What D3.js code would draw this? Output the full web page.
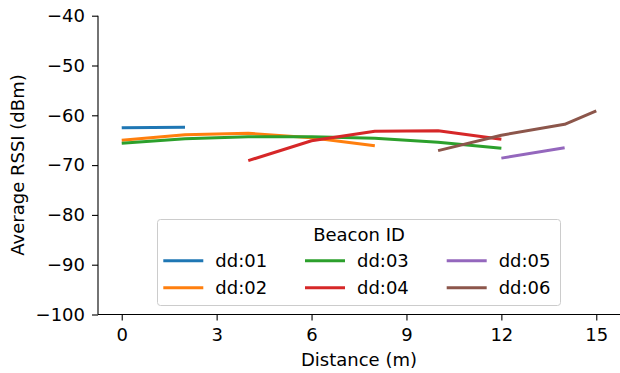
<!DOCTYPE html>
<html><head><meta charset="utf-8">
<script src="https://cdn.jsdelivr.net/npm/d3@7"></script>
<style>body{margin:0;background:#fff}svg{display:block}text{font-family:"DejaVu Sans",sans-serif;fill:#000}</style>
</head><body><svg id="c" width="620" height="373"></svg>
<script>
const beaconIds = ["dd:01","dd:02","dd:03","dd:04","dd:05","dd:06"];
const colors = ["#1f77b4","#ff7f0e","#2ca02c","#d62728","#9467bd","#8c564b"];
const dist01 = [0,2];            const rssi01 = [-62.5,-62.4];
const dist02 = [0,2,4,6,8];      const rssi02 = [-65.0,-63.9,-63.6,-64.5,-66.1];
const dist03 = [0,2,4,6,8,10,12];const rssi03 = [-65.6,-64.7,-64.3,-64.3,-64.6,-65.4,-66.6];
const dist04 = [4,6,8,10,12];    const rssi04 = [-69.1,-65.1,-63.2,-63.1,-64.8];
const dist05 = [12,14];          const rssi05 = [-68.6,-66.5];
const dist06 = [10,12,14,15];    const rssi06 = [-67.1,-64.0,-61.8,-59.1];
const xTicks = [0,3,6,9,12,15];
const yTicks = [-40,-50,-60,-70,-80,-90,-100];

const series = [[dist01,rssi01],[dist02,rssi02],[dist03,rssi03],[dist04,rssi04],[dist05,rssi05],[dist06,rssi06]]
  .map((s,i)=>({id:beaconIds[i],color:colors[i],pts:s[0].map((d,j)=>[d,s[1][j]])}));

const FS = "18px";
const svg = d3.select("#c");
const L=98, R=620, T=15.7, B=314.5;
const x = d3.scaleLinear().domain([-0.75,15.75]).range([L,R]);
const y = d3.scaleLinear().domain([-100,-40]).range([B,T]);

const fmt = d=>String(d).replace("-","\u2212");
const xa = svg.append("g").attr("transform",`translate(0,${B})`)
  .call(d3.axisBottom(x).tickValues(xTicks).tickSize(6).tickPadding(6).tickFormat(fmt));
const ya = svg.append("g").attr("transform",`translate(${L},0)`)
  .call(d3.axisLeft(y).tickValues(yTicks).tickSize(6).tickPadding(7).tickFormat(fmt));
[xa,ya].forEach(a=>{a.attr("font-size",null).attr("font-family",null);
  a.selectAll("text").style("font-size",FS);
  a.selectAll("line,path").attr("stroke","#000").attr("stroke-width",1.1);
  a.select(".domain").attr("d", a===xa ? `M${L},0H${R}` : `M0,${B}V${T}`);});
xa.selectAll("text").attr("dy","0.82em");

const line = d3.line().x(d=>x(d[0])).y(d=>y(d[1]));
series.forEach(s=>{
  svg.append("path").datum(s.pts).attr("d",line).attr("fill","none")
    .attr("stroke",s.color).attr("stroke-width",3).attr("stroke-linecap","butt").attr("stroke-linejoin","round");
});

svg.append("text").attr("x",359).attr("y",366).attr("text-anchor","middle").style("font-size",FS).text("Distance (m)");
svg.append("text").attr("transform","translate(24,165) rotate(-90)").attr("text-anchor","middle").style("font-size",FS).text("Average RSSI (dBm)");

// legend
const lg = svg.append("g");
lg.append("rect").attr("x",157.5).attr("y",219.5).attr("width",403).attr("height",86).attr("rx",3)
  .attr("fill","#fff").attr("fill-opacity",0.8).attr("stroke","#ccc").attr("stroke-width",1);
lg.append("text").attr("x",359).attr("y",241).attr("text-anchor","middle").style("font-size",FS).text("Beacon ID");
const colX = [163.3,305,446.7], rowY=[260.7,287.7];
series.forEach((s,i)=>{
  const c=Math.floor(i/2), r=i%2;
  lg.append("line").attr("x1",colX[c]).attr("x2",colX[c]+40).attr("y1",rowY[r]).attr("y2",rowY[r])
    .attr("stroke",s.color).attr("stroke-width",3);
  lg.append("text").attr("x",colX[c]+52).attr("y",rowY[r]+6.5).style("font-size",FS).text(s.id);
});
</script></body></html>
